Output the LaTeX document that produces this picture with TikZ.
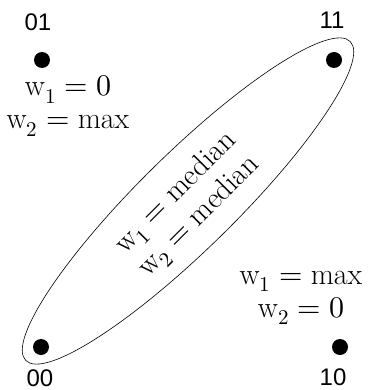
\documentclass[tikz,border=0pt]{standalone}
\usepackage{fontspec}
\usepackage{unicode-math}
\setmathfont{Latin Modern Math}
\newfontfamily\labfont{Liberation Sans}
\usetikzlibrary{shapes.geometric}
\tikzset{
  dot/.style={circle,fill=black,inner sep=0pt,minimum size=16pt},
  corner/.style={font=\labfont\fontsize{24}{28}\selectfont,inner sep=0pt},
  wtext/.style={font=\fontsize{30}{33}\selectfont,align=center,inner sep=0pt},
  region/.style={draw,semithick,ellipse,inner sep=0pt,minimum width=455pt,minimum height=96pt}
}
\begin{document}
\begin{tikzpicture}[x=1pt,y=-1pt]
\useasboundingbox (0,0) rectangle (367,390);
\node[region,rotate=44.5] (ell) at (188,201) {};
\node[dot] (d01) at (42,60) {};
\node[dot] (d11) at (334,60) {};
\node[dot] (d00) at (41,347) {};
\node[dot] (d10) at (340,347) {};
\node[corner] (l01) at (38,22) {01};
\node[corner] (l11) at (332,20) {11};
\node[corner] (l00) at (40,378) {00};
\node[corner] (l10) at (333,377) {10};
\node[wtext] (t01) at (68,106) {$\mathrm{w}_1 = 0$\\ $\mathrm{w}_2 = \mathrm{max}$};
\node[wtext] (t10) at (301,298) {$\mathrm{w}_1 = \mathrm{max}$\\ $\mathrm{w}_2 = 0$};
\node[wtext,rotate=45] (tmid) at (188,205) {$\mathrm{w}_1 = \mathrm{median}$\\ $\mathrm{w}_2 = \mathrm{median}$};
\end{tikzpicture}
\end{document}
